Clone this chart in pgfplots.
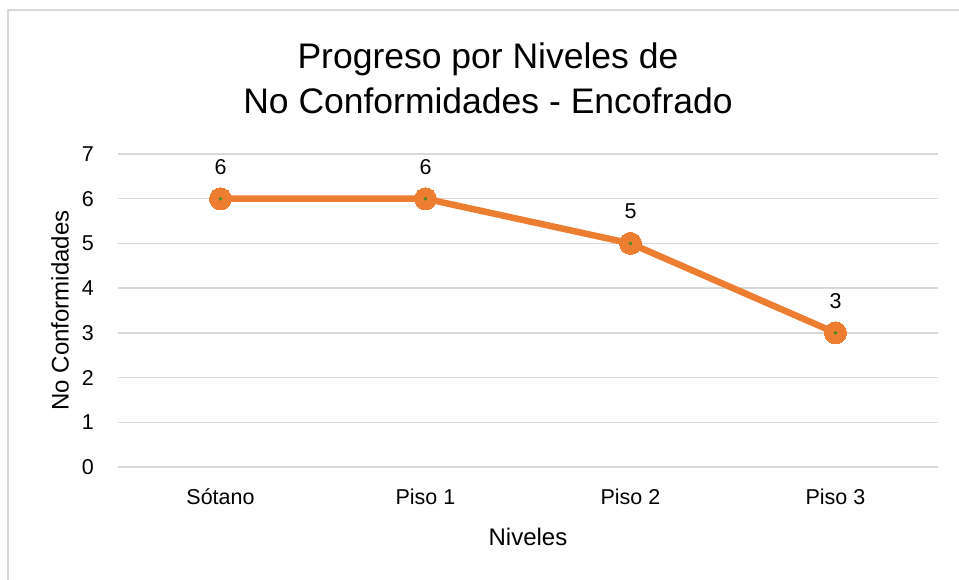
\documentclass[border=0pt]{standalone}
\usepackage{fontspec}
\setmainfont{Liberation Sans}
\usepackage{pgfplots}
\pgfplotsset{compat=1.18}
\definecolor{lineorange}{RGB}{237,125,49}
\definecolor{gridgray}{RGB}{217,217,217}
\definecolor{dotgreen}{RGB}{70,140,40}

\pgfplotstableread{
x y
0 6
1 6
2 5
3 3
}\ncdata

\begin{document}
\begin{tikzpicture}
\useasboundingbox (-118pt,-113pt) rectangle (841pt,467pt);
% chart frame (cut off at right and bottom)
\draw[gridgray, line width=2pt] (-110pt,-130pt) -- (-110pt,457pt) -- (850pt,457pt);
\begin{axis}[
    at={(0pt,0pt)}, anchor=south west,
    scale only axis,
    width=820pt, height=313pt,
    xmin=-0.5, xmax=3.5,
    ymin=0, ymax=7,
    clip=false,
    axis line style={draw=none},
    major tick length=0pt,
    ymajorgrids=true,
    grid style={gridgray, line width=1.5pt},
    xtick={0,1,2,3},
    xticklabels={Sótano,Piso 1,Piso 2,Piso 3},
    ytick={0,1,...,7},
    /pgf/number format/assume math mode=true,
    tick label style={font=\fontsize{21.5}{23}\selectfont},
    yticklabel style={inner sep=0pt, xshift=-24pt},
    xticklabel style={anchor=base, inner sep=0pt, yshift=-38pt},
    xlabel={Niveles},
    ylabel={No Conformidades},
    label style={font=\fontsize{24}{26}\selectfont},
    xlabel style={at={(axis description cs:0.5,-0.2236)}, anchor=center},
    ylabel style={at={(axis description cs:-0.0707,0.5)}, anchor=center},
    title={Progreso por Niveles de\\No Conformidades - Encofrado},
    title style={at={(axis description cs:0.4512,1.224)}, anchor=center,
                 align=center, font=\fontsize{35.5}{45}\selectfont},
    nodes near coords,
    every node near coord/.append style={anchor=center, yshift=32pt,
                 font=\fontsize{21.5}{23}\selectfont, text=black},
]
\addplot[lineorange, line width=6.5pt, mark=*, mark size=11pt,
         mark options={fill=lineorange, draw=lineorange, line width=0pt}]
    table[x=x, y=y] {\ncdata};
\addplot[only marks, mark=*, mark size=1.6pt, dotgreen, nodes near coords=]
    table[x=x, y=y] {\ncdata};
\end{axis}
\end{tikzpicture}
\end{document}
